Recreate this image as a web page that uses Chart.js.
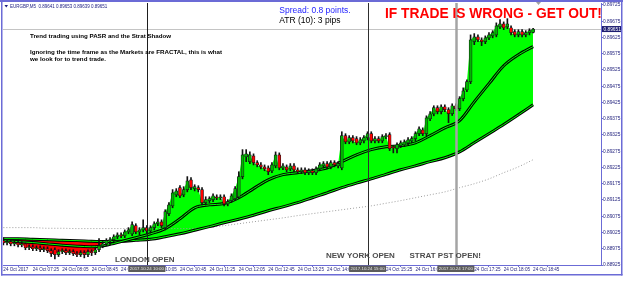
<!DOCTYPE html>
<html><head><meta charset="utf-8">
<script src="https://cdn.jsdelivr.net/npm/chart.js@4.4.1/dist/chart.umd.min.js"></script>
<style>html,body{margin:0;padding:0;background:#fff;}canvas{display:block;}</style>
</head><body>
<canvas id="c" width="625" height="298"></canvas>
<script>
// ---- DATA (EURGBP M5, 24 Oct 2017, bar index 0 = 06:45) ----
const opens = [0.89000,0.88993,0.88997,0.88990,0.88993,0.88987,0.88990,0.88978,0.88981,0.88975,
0.88978,0.88972,0.88975,0.88969,0.88972,0.88957,0.88966,0.88969,0.88963,0.88966,
0.88960,0.88957,0.88963,0.88957,0.88966,0.88963,0.88972,0.88984,0.88990,0.89000,
0.89003,0.89012,0.89018,0.89015,0.89027,0.89021,0.89046,0.89027,0.89033,0.89040,
0.89030,0.89040,0.89052,0.89058,0.89040,0.89083,0.89107,0.89141,0.89163,0.89141,
0.89157,0.89187,0.89160,0.89163,0.89157,0.89117,0.89123,0.89126,0.89135,0.89132,
0.89135,0.89113,0.89123,0.89129,0.89135,0.89197,0.89258,0.89243,0.89261,0.89240,
0.89233,0.89227,0.89224,0.89215,0.89230,0.89264,0.89224,0.89227,0.89221,0.89230,
0.89218,0.89212,0.89218,0.89209,0.89215,0.89209,0.89221,0.89230,0.89237,0.89227,
0.89240,0.89230,0.89224,0.89323,0.89304,0.89317,0.89314,0.89301,0.89307,0.89317,
0.89329,0.89307,0.89314,0.89307,0.89320,0.89326,0.89289,0.89283,0.89292,0.89295,
0.89301,0.89307,0.89314,0.89329,0.89341,0.89329,0.89375,0.89390,0.89409,0.89397,
0.89412,0.89403,0.89391,0.89415,0.89406,0.89437,0.89464,0.89489,0.89612,0.89627,
0.89618,0.89612,0.89624,0.89630,0.89633,0.89658,0.89667,0.89658,0.89655,0.89643,
0.89633,0.89643,0.89633,0.89640,0.89641];
const highs = [0.89009,0.89003,0.89003,0.89000,0.89000,0.88997,0.88993,0.88987,0.88987,0.88984,
0.88984,0.88981,0.88981,0.88975,0.88978,0.88972,0.88975,0.88975,0.88972,0.88972,
0.88966,0.88969,0.88969,0.88972,0.88972,0.88978,0.89006,0.88997,0.89006,0.89009,
0.89018,0.89024,0.89024,0.89033,0.89040,0.89058,0.89052,0.89040,0.89064,0.89046,
0.89046,0.89058,0.89067,0.89064,0.89095,0.89117,0.89157,0.89160,0.89169,0.89166,
0.89197,0.89194,0.89172,0.89169,0.89163,0.89135,0.89135,0.89144,0.89141,0.89141,
0.89141,0.89126,0.89144,0.89166,0.89212,0.89280,0.89280,0.89273,0.89267,0.89246,
0.89240,0.89233,0.89230,0.89240,0.89273,0.89270,0.89237,0.89233,0.89237,0.89237,
0.89224,0.89224,0.89224,0.89221,0.89221,0.89227,0.89240,0.89243,0.89243,0.89246,
0.89246,0.89243,0.89335,0.89329,0.89323,0.89323,0.89320,0.89317,0.89323,0.89335,
0.89335,0.89320,0.89320,0.89326,0.89329,0.89332,0.89292,0.89301,0.89307,0.89310,
0.89317,0.89320,0.89335,0.89350,0.89347,0.89384,0.89397,0.89415,0.89415,0.89418,
0.89418,0.89409,0.89421,0.89421,0.89443,0.89470,0.89495,0.89633,0.89637,0.89633,
0.89624,0.89630,0.89640,0.89646,0.89670,0.89680,0.89673,0.89683,0.89661,0.89649,
0.89649,0.89649,0.89646,0.89652,0.89653];
const lows = [0.88987,0.88987,0.88984,0.88984,0.88981,0.88981,0.88972,0.88972,0.88969,0.88969,
0.88966,0.88966,0.88963,0.88951,0.88944,0.88951,0.88960,0.88957,0.88957,0.88954,
0.88951,0.88951,0.88947,0.88951,0.88954,0.88957,0.88966,0.88978,0.88984,0.88987,
0.88997,0.89006,0.89009,0.89009,0.89021,0.89015,0.89021,0.89018,0.89027,0.89021,
0.89024,0.89033,0.89046,0.89040,0.89033,0.89077,0.89101,0.89135,0.89132,0.89135,
0.89150,0.89157,0.89153,0.89150,0.89110,0.89110,0.89117,0.89120,0.89126,0.89126,
0.89107,0.89107,0.89117,0.89123,0.89129,0.89190,0.89243,0.89237,0.89233,0.89227,
0.89221,0.89215,0.89203,0.89209,0.89224,0.89218,0.89218,0.89212,0.89215,0.89212,
0.89206,0.89206,0.89203,0.89203,0.89203,0.89203,0.89215,0.89224,0.89221,0.89221,
0.89227,0.89224,0.89218,0.89298,0.89298,0.89301,0.89295,0.89295,0.89301,0.89310,
0.89301,0.89301,0.89301,0.89301,0.89314,0.89277,0.89270,0.89270,0.89286,0.89289,
0.89295,0.89301,0.89307,0.89323,0.89323,0.89323,0.89369,0.89384,0.89390,0.89390,
0.89397,0.89363,0.89385,0.89400,0.89400,0.89430,0.89458,0.89483,0.89603,0.89612,
0.89600,0.89606,0.89618,0.89624,0.89627,0.89652,0.89649,0.89652,0.89633,0.89627,
0.89627,0.89627,0.89627,0.89633,0.89639];
const closes = [0.88993,0.88997,0.88990,0.88993,0.88987,0.88990,0.88978,0.88981,0.88975,0.88978,
0.88972,0.88975,0.88969,0.88960,0.88957,0.88966,0.88969,0.88963,0.88966,0.88960,
0.88957,0.88963,0.88957,0.88966,0.88963,0.88972,0.88984,0.88990,0.89000,0.89003,
0.89012,0.89018,0.89015,0.89027,0.89033,0.89049,0.89027,0.89033,0.89040,0.89030,
0.89040,0.89052,0.89058,0.89046,0.89089,0.89110,0.89147,0.89153,0.89138,0.89157,
0.89184,0.89163,0.89166,0.89157,0.89117,0.89126,0.89129,0.89138,0.89132,0.89135,
0.89113,0.89120,0.89138,0.89160,0.89197,0.89264,0.89267,0.89264,0.89240,0.89233,
0.89227,0.89221,0.89212,0.89233,0.89264,0.89224,0.89230,0.89218,0.89230,0.89218,
0.89212,0.89218,0.89209,0.89215,0.89209,0.89221,0.89233,0.89237,0.89227,0.89240,
0.89233,0.89237,0.89323,0.89304,0.89317,0.89307,0.89301,0.89310,0.89317,0.89329,
0.89307,0.89314,0.89307,0.89320,0.89323,0.89283,0.89286,0.89295,0.89301,0.89304,
0.89310,0.89314,0.89329,0.89344,0.89329,0.89378,0.89390,0.89409,0.89397,0.89412,
0.89403,0.89391,0.89415,0.89406,0.89437,0.89461,0.89489,0.89618,0.89627,0.89618,
0.89612,0.89624,0.89633,0.89640,0.89661,0.89667,0.89655,0.89667,0.89640,0.89633,
0.89643,0.89633,0.89640,0.89646,0.89651];

// moving averages, read every 4 bars
const maIdx = [0,4,8,12,16,20,24,28,32,36,40,44,48,52,56,60,64,68,72,76,80,84,88,92,96,100,104,108,112,116,120,124,128,132,136,140,144];
const maMiddle = [0.89000,0.88997,0.88994,0.88990,0.88986,0.88983,0.88981,0.88986,0.88997,0.89009,
0.89021,0.89037,0.89067,0.89101,0.89110,0.89114,0.89132,0.89160,0.89187,0.89203,
0.89209,0.89215,0.89224,0.89243,0.89264,0.89280,0.89289,0.89292,0.89301,0.89323,
0.89347,0.89369,0.89427,0.89483,0.89538,0.89572,0.89597];
const maLower = [0.89006,0.89006,0.89004,0.89003,0.89001,0.89000,0.88998,0.88997,0.88998,0.89001,
0.89004,0.89012,0.89021,0.89032,0.89043,0.89055,0.89066,0.89078,0.89092,0.89104,
0.89117,0.89132,0.89147,0.89163,0.89177,0.89190,0.89204,0.89218,0.89230,0.89243,
0.89255,0.89273,0.89301,0.89329,0.89357,0.89387,0.89418];
const maSlow = [0.89040,0.89040,0.89040,0.89038,0.89038,0.89037,0.89037,0.89037,0.89037,0.89037,
0.89037,0.89037,0.89037,0.89038,0.89041,0.89046,0.89052,0.89058,0.89064,0.89070,
0.89077,0.89083,0.89089,0.89095,0.89101,0.89107,0.89115,0.89123,0.89132,0.89141,
0.89150,0.89163,0.89175,0.89190,0.89209,0.89227,0.89249];

const timeTickIdx = [0,8,16,24,32,40,48,56,64,72,80,88,96,104,112,120,128,136,144];
const timeTickLabels = ['24 Oct 2017','24 Oct 07:25','24 Oct 08:05','24 Oct 08:45','24 Oct 09:25','24 Oct 10:05',
'24 Oct 10:45','24 Oct 11:25','24 Oct 12:05','24 Oct 12:45','24 Oct 13:25','24 Oct 14:05','24 Oct 14:45',
'24 Oct 15:25','24 Oct 16:05','24 Oct 16:45','24 Oct 17:25','24 Oct 18:05','24 Oct 18:45'];
const priceTicks = [0.88925,0.88975,0.89025,0.89075,0.89125,0.89175,0.89225,0.89275,0.89325,0.89375,
0.89425,0.89475,0.89525,0.89575,0.89625,0.89675,0.89725];
const sessionIdx = [39, 99, 123];
const sessionNames = ['LONDON OPEN','NEW YORK OPEN','STRAT PST OPEN!'];
const sessionStamps = ['2017.10.24 10:00','2017.10.24 15:00','2017.10.24 17:00'];
const currentPrice = 0.89651;
const headerText = 'EURGBP,M5  0.89641 0.89653 0.89639 0.89651';

// ---- styles ----
const FONT = '"Liberation Sans", Arial, sans-serif';
const LIME = '#00ff00';
const FRAME = '#6b6bd6';
const AXIS_TXT = '#25257f';
const sessionStyle = [
  {color:'#1e1e1e', width:1, textX:115, textY:261.5},
  {color:'#2e2e2e', width:1, textX:326, textY:257.7},
  {color:'#a4a4a4', width:2.5, textX:409.5, textY:257.7}
];

const toXY = arr => arr.map((v,k)=>({x: maIdx[k], y: v}));
const fastData = closes.map((c,i)=>({x:i, y:c}));
const wickData = closes.map((c,i)=>({x:i, y:[lows[i], highs[i]]}));
const bodyData = closes.map((c,i)=>({x:i, y:[opens[i], c]}));

const overlay = {
  id:'overlay',
  beforeDatasetsDraw(chart){
    const {ctx, chartArea:a, scales:{y}} = chart;
    const py = Math.round(y.getPixelForValue(currentPrice)) + 0.5;
    ctx.save();
    ctx.strokeStyle = '#c4c4c4'; ctx.lineWidth = 1;
    ctx.beginPath(); ctx.moveTo(a.left, py); ctx.lineTo(a.right, py); ctx.stroke();
    ctx.restore();
  },
  afterDatasetsDraw(chart){
    const {ctx, chartArea:a, scales:{x}} = chart;
    ctx.save();
    sessionIdx.forEach((idx,k)=>{
      const px = Math.round(x.getPixelForValue(idx)) + 0.5;
      ctx.strokeStyle = sessionStyle[k].color; ctx.lineWidth = sessionStyle[k].width;
      ctx.beginPath(); ctx.moveTo(px, a.top); ctx.lineTo(px, a.bottom); ctx.stroke();
    });
    ctx.restore();
  },
  afterDraw(chart){
    const {ctx, chartArea:a, scales:{x, y}} = chart;
    ctx.save();
    ctx.textAlign = 'left'; ctx.textBaseline = 'alphabetic';
    ctx.fillStyle = '#1a1a80';
    ctx.beginPath(); ctx.moveTo(4.5,5); ctx.lineTo(8,5); ctx.lineTo(6.25,7.5); ctx.closePath(); ctx.fill();
    ctx.font = '4.5px ' + FONT;
    ctx.fillText(headerText, 10, 8);
    ctx.fillStyle = '#000';
    ctx.font = 'bold 6.2px ' + FONT;
    ctx.fillText('Trend trading using PASR and the Strat Shadow', 30, 37.7);
    ctx.fillText('Ignoring the time frame as the Markets are FRACTAL, this is what', 30, 54);
    ctx.fillText('we look for to trend trade.', 30, 61.2);
    ctx.font = '8.5px ' + FONT;
    ctx.fillStyle = '#1e1eff';
    ctx.fillText('Spread: 0.8 points.', 279.3, 13.2);
    ctx.fillStyle = '#000';
    ctx.fillText('ATR (10): 3 pips', 279.3, 23.2);
    ctx.font = 'bold 13.8px ' + FONT;
    ctx.fillStyle = '#ff0000';
    ctx.fillText('IF TRADE IS WRONG - GET OUT!', 385, 18.3);
    ctx.font = 'bold 8px ' + FONT;
    ctx.fillStyle = '#4c4c4c';
    sessionNames.forEach((n,k)=> ctx.fillText(n, sessionStyle[k].textX, sessionStyle[k].textY));
    ctx.font = '4.4px ' + FONT;
    ctx.textAlign = 'center'; ctx.textBaseline = 'middle';
    sessionIdx.forEach((idx,k)=>{
      const px = x.getPixelForValue(idx);
      ctx.fillStyle = '#5c5c5c';
      ctx.fillRect(px - 18.5, a.bottom + 0.5, 37, 6.5);
      ctx.fillStyle = '#e6e6e6';
      ctx.fillText(sessionStamps[k], px, a.bottom + 3.9);
    });
    const py = y.getPixelForValue(currentPrice);
    ctx.fillStyle = '#1c1c70';
    ctx.fillRect(a.right + 1, py - 3, 20, 6);
    ctx.fillStyle = '#ffffff';
    ctx.font = '4.8px ' + FONT;
    ctx.textAlign = 'left';
    ctx.fillText(currentPrice.toFixed(5), a.right + 2.5, py + 0.3);
    ctx.fillStyle = '#a0a0a0';
    ctx.beginPath(); ctx.moveTo(536,2); ctx.lineTo(541,2); ctx.lineTo(538.5,5); ctx.closePath(); ctx.fill();
    ctx.fillStyle = FRAME;
    ctx.fillRect(0, 0, 623, 2);
    ctx.fillRect(1, 0, 1.5, 275.5);
    ctx.fillRect(621, 0, 1.5, 275.5);
    ctx.fillRect(1, 274, 621.5, 1.5);
    ctx.restore();
  }
};

new Chart(document.getElementById('c'), {
  type: 'line',
  data: { datasets: [
    {type:'line', data: fastData, borderColor:'rgba(0,0,0,0)', borderWidth:0, pointRadius:0, tension:0,
     fill:{target:2, above:LIME, below:'#ff0000'}, order:10},
    {type:'line', data: toXY(maSlow), borderColor:'#9c9c9c', borderWidth:1, borderDash:[1,2], pointRadius:0, fill:false, order:9, cubicInterpolationMode:'monotone'},
    {type:'line', data: toXY(maLower), borderColor:'#000', borderWidth:3, pointRadius:0, fill:false, order:8, cubicInterpolationMode:'monotone'},
    {type:'line', data: toXY(maLower), borderColor:LIME, borderWidth:1, pointRadius:0, fill:false, order:7, cubicInterpolationMode:'monotone'},
    {type:'line', data: toXY(maMiddle), borderColor:'#000', borderWidth:3, pointRadius:0, fill:false, order:6, cubicInterpolationMode:'monotone'},
    {type:'line', data: toXY(maMiddle), borderColor:LIME, borderWidth:1, pointRadius:0, fill:false, order:5, cubicInterpolationMode:'monotone'},
    {type:'bar', data: wickData, backgroundColor:'#111', barThickness:1, grouped:false, order:2},
    {type:'bar', data: bodyData, grouped:false, order:1, barThickness:3, borderWidth:0.7, borderSkipped:false, borderColor:'#1a1a1a',
     backgroundColor: c => { const r = c.raw; return (r && r.y[1] >= r.y[0]) ? '#00b400' : '#ff0000'; }}
  ]},
  options: {
    responsive:false, animation:false, devicePixelRatio:1,
    layout:{padding:{left:3, top:3, right:3, bottom:24}},
    plugins:{legend:{display:false}, tooltip:{enabled:false}},
    scales:{
      x:{type:'linear', min:-0.1, max:162.45, offset:false,
        afterBuildTicks: s => { s.ticks = timeTickIdx.map(v=>({value:v})); },
        afterFit: s => { s.height = 9; },
        ticks:{autoSkip:false, maxRotation:0, minRotation:0, align:'start', padding:0,
          font:{family:FONT, size:4.6}, color:AXIS_TXT,
          callback:(v,i)=> timeTickLabels[i]},
        grid:{drawOnChartArea:false, drawTicks:true, tickLength:2, color:FRAME},
        border:{color:FRAME, width:1}
      },
      y:{position:'right', min:0.88925, max:0.8973115,
        afterBuildTicks: s => { s.ticks = priceTicks.map(v=>({value:v})); },
        afterFit: s => { s.width = 21; },
        ticks:{padding:0, font:{family:FONT, size:4.8}, color:AXIS_TXT, callback: v => v.toFixed(5)},
        grid:{drawOnChartArea:false, drawTicks:true, tickLength:2, color:FRAME},
        border:{color:FRAME, width:1}
      }
    }
  },
  plugins:[overlay]
});
</script>
</body></html>
